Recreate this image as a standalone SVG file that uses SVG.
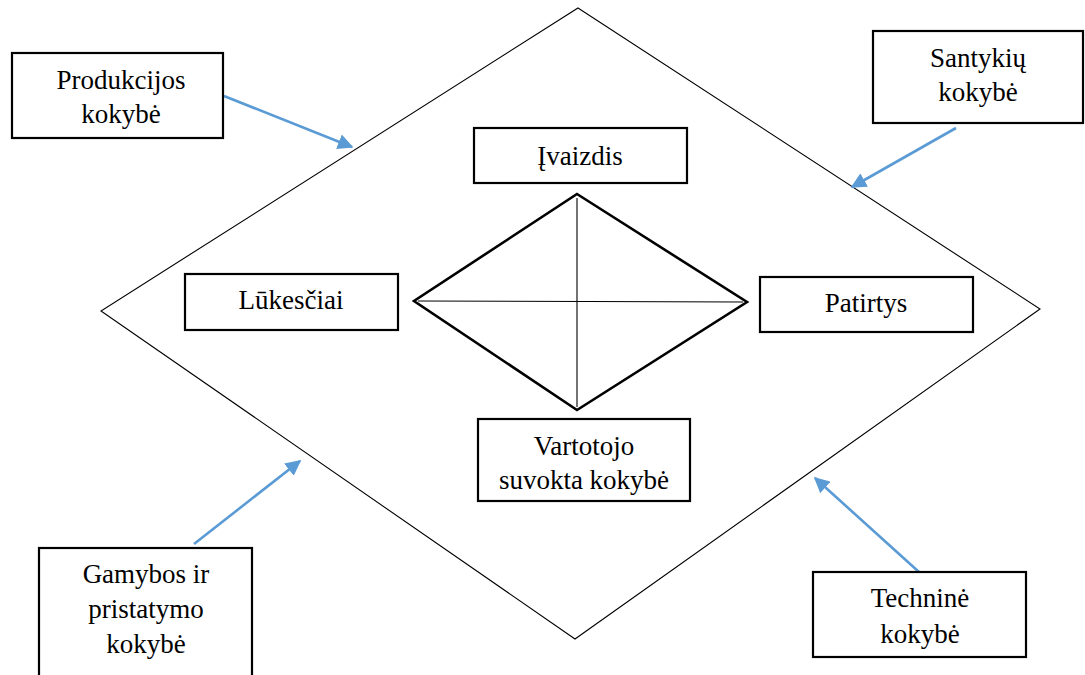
<svg xmlns="http://www.w3.org/2000/svg" width="1085" height="675" viewBox="0 0 1085 675">
  <style>
    .box { fill: #fff; stroke: #000; stroke-width: 2.2; }
    .lbl { font-family: "Liberation Serif", "Times New Roman", serif; font-size: 27px; fill: #000; text-anchor: middle; }
    .thin { fill: none; stroke: #000; stroke-width: 1.1; }
    .inner { fill: none; stroke: #000; stroke-width: 2.6; stroke-linejoin: miter; }
    .arrow { stroke: #5B9BD5; stroke-width: 2.6; fill: none; marker-end: url(#head); }
  </style>
  <defs>
    <marker id="head" viewBox="0 0 10 10" refX="9" refY="5" markerWidth="6" markerHeight="6" orient="auto" markerUnits="strokeWidth">
      <path d="M0,0 L10,5 L0,10 z" fill="#5B9BD5"/>
    </marker>
  </defs>
  <rect width="1085" height="675" fill="#fff"/>

  <!-- outer quality frame -->
  <g id="outer-diamond">
    <polygon class="thin" points="578,8 1040,309 575,639 101,311"/>
  </g>

  <!-- central perception diamond with its diagonals -->
  <g id="inner-diamond">
    <polygon class="inner" points="577,194 747,302 577,410 414,301"/>
    <line class="thin" x1="577" y1="198" x2="577" y2="407"/>
    <line class="thin" x1="418" y1="301" x2="743" y2="302"/>
  </g>

  <g id="connectors">
    <line class="arrow" x1="224" y1="96" x2="352" y2="147"/>
    <line class="arrow" x1="956" y1="128" x2="852" y2="187"/>
    <line class="arrow" x1="194" y1="544" x2="300" y2="461"/>
    <line class="arrow" x1="919" y1="572" x2="815" y2="478"/>
  </g>

  <g id="produkcijos">
    <rect class="box" x="12" y="53" width="211" height="85"/>
    <text class="lbl" x="121" y="89">Produkcijos</text>
    <text class="lbl" x="121" y="123">kokybė</text>
  </g>

  <g id="santykiu">
    <rect class="box" x="873" y="31" width="210" height="92"/>
    <text class="lbl" x="978" y="67">Santykių</text>
    <text class="lbl" x="978" y="101">kokybė</text>
  </g>

  <g id="ivaizdis">
    <rect class="box" x="474" y="128" width="213" height="55"/>
    <text class="lbl" x="580" y="165">Įvaizdis</text>
  </g>

  <g id="lukesciai">
    <rect class="box" x="185" y="274" width="213" height="56"/>
    <text class="lbl" x="291" y="309">Lūkesčiai</text>
  </g>

  <g id="patirtys">
    <rect class="box" x="760" y="277" width="213" height="55"/>
    <text class="lbl" x="866" y="312">Patirtys</text>
  </g>

  <g id="vartotojo">
    <rect class="box" x="478" y="419" width="212" height="82"/>
    <text class="lbl" x="584" y="455">Vartotojo</text>
    <text class="lbl" x="584" y="489">suvokta kokybė</text>
  </g>

  <g id="gamybos">
    <rect class="box" x="39" y="548" width="213" height="140"/>
    <text class="lbl" x="146" y="583">Gamybos ir</text>
    <text class="lbl" x="146" y="618">pristatymo</text>
    <text class="lbl" x="146" y="653">kokybė</text>
  </g>

  <g id="technine">
    <rect class="box" x="813" y="572" width="213" height="85"/>
    <text class="lbl" x="920" y="607">Techninė</text>
    <text class="lbl" x="920" y="643">kokybė</text>
  </g>
</svg>
